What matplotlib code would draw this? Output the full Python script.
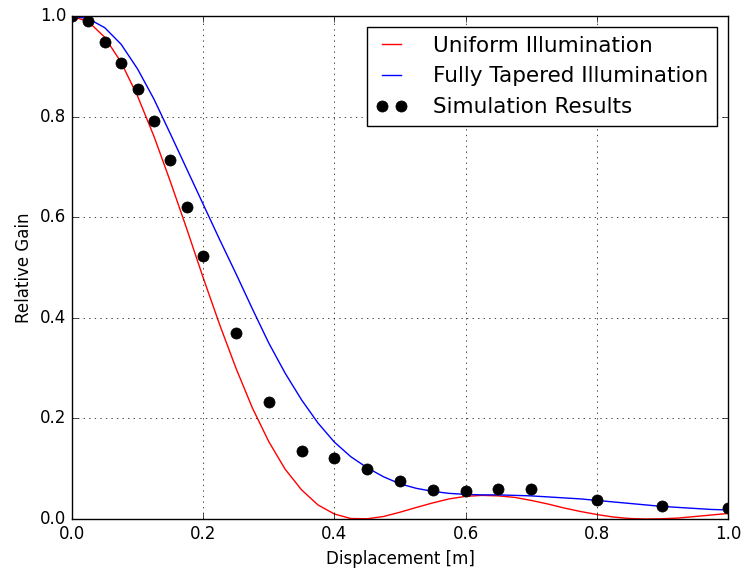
import matplotlib
matplotlib.use("Agg")
import matplotlib.pyplot as plt

# displacement grid for the theory curves [m]
x_theory = [0.0, 0.025, 0.05, 0.075, 0.1, 0.125, 0.15, 0.175, 0.2, 0.225,
            0.25, 0.275, 0.3, 0.325, 0.35, 0.375, 0.4, 0.425, 0.45, 0.475,
            0.5, 0.525, 0.55, 0.575, 0.6, 0.625, 0.65, 0.675, 0.7, 0.725,
            0.75, 0.775, 0.8, 0.825, 0.85, 0.875, 0.9, 0.925, 0.95, 0.975, 1.0]

uniform = [1.0, 0.989, 0.958, 0.908, 0.841, 0.761, 0.671, 0.577, 0.480, 0.387,
           0.300, 0.221, 0.154, 0.099, 0.058, 0.028, 0.010, 0.001, 0.0005, 0.005,
           0.0135, 0.023, 0.032, 0.040, 0.045, 0.047, 0.046, 0.043, 0.037, 0.030,
           0.022, 0.015, 0.009, 0.004, 0.001, 0.0, 0.0005, 0.002, 0.005, 0.008, 0.011]

tapered = [1.0, 0.995, 0.977, 0.944, 0.895, 0.835, 0.766, 0.696, 0.626, 0.556,
           0.488, 0.418, 0.350, 0.290, 0.237, 0.191, 0.153, 0.124, 0.102, 0.084,
           0.070, 0.061, 0.055, 0.051, 0.049, 0.048, 0.048, 0.047, 0.046, 0.044,
           0.042, 0.040, 0.037, 0.034, 0.031, 0.028, 0.025, 0.023, 0.021, 0.019, 0.018]

x_sim = [0.0, 0.025, 0.05, 0.075, 0.1, 0.125, 0.15, 0.175, 0.2, 0.25, 0.3,
         0.35, 0.4, 0.45, 0.5, 0.55, 0.6, 0.65, 0.7, 0.8, 0.9, 1.0]
sim = [1.0, 0.99, 0.949, 0.907, 0.856, 0.792, 0.713, 0.620, 0.523, 0.369, 0.233,
       0.135, 0.121, 0.100, 0.075, 0.058, 0.055, 0.060, 0.060, 0.037, 0.026, 0.021]


plt.style.use("classic")
plt.rcParams["font.family"] = ["DejaVu Sans"]

fig = plt.figure(figsize=(7.42, 5.77), dpi=100, facecolor="white")
ax = fig.add_axes([0.097, 0.1005, 0.884, 0.8715])

ax.plot(x_theory, uniform, "r-", label="Uniform Illumination")
ax.plot(x_theory, tapered, "b-", label="Fully Tapered Illumination")
ax.plot(x_sim, sim, "ko", markersize=8, label="Simulation Results")

ax.set_xlim(0, 1)
ax.set_ylim(0, 1)
ax.set_xlabel("Displacement [m]")
ax.set_ylabel("Relative Gain")
ax.grid(True)
ax.legend(loc="upper right", fontsize=15.5, numpoints=2,
          handlelength=1.5, handletextpad=1.2)

fig.savefig("out.png", dpi=100, facecolor="white")
